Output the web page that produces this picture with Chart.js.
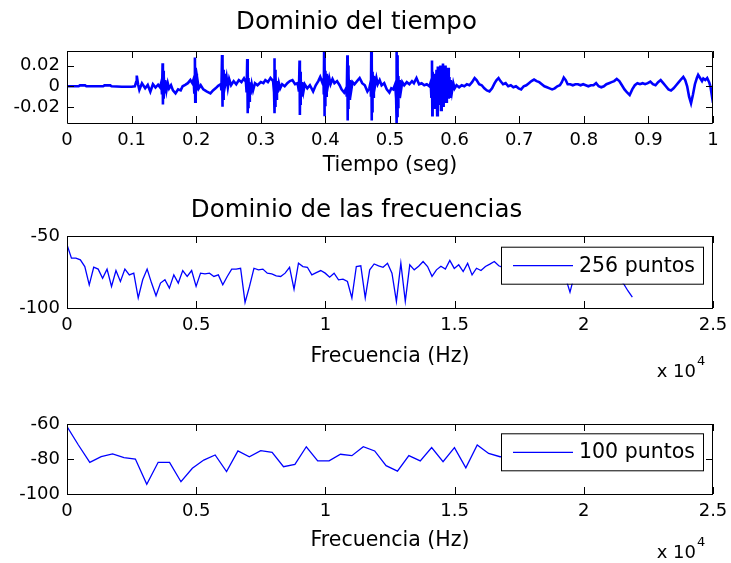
<!DOCTYPE html>
<html>
<head>
<meta charset="utf-8">
<script src="https://cdn.jsdelivr.net/npm/chart.js@4.4.1/dist/chart.umd.min.js"></script>
<style>
  body { margin: 0; background: #fff; }
  #lienzo { position: relative; width: 731px; height: 563px; overflow: hidden; }
  #lienzo canvas { position: absolute; left: 0; }
</style>
</head>
<body>
<div id="lienzo">
  <canvas id="graficoTiempo" width="731" height="185" style="top:0px"></canvas>
  <canvas id="grafico256" width="731" height="200" style="top:185px"></canvas>
  <canvas id="grafico100" width="731" height="178" style="top:385px"></canvas>
</div>
<script>
// --- datos ---

// señal en el dominio del tiempo: [tiempo (seg), amplitud]
const senal = [
  [0, 0], [0.018, 0], [0.02, 0.0009], [0.028, 0.0009], [0.03, 0], [0.056, 0], [0.058, 0.0009],
  [0.067, 0.0009], [0.069, 0], [0.085, -0.0005], [0.1, -0.0005], [0.105, 0],
  [0.107, 0.004], [0.108, 0.0103], [0.110, 0.002], [0.112, -0.0035], [0.116, 0.0029], [0.121, -0.0019],
  [0.125, 0.0013], [0.129, -0.0052], [0.133, 0.002], [0.137, -0.0012], [0.141, 0.0015], [0.144, -0.001], [0.146, 0.004],
  [0.147, -0.008], [0.148, 0.0222], [0.1485, -0.0175], [0.149, 0.015], [0.1495, -0.012], [0.150, 0.010],
  [0.151, -0.007], [0.152, 0.006], [0.154, -0.004], [0.156, 0.003], [0.158, -0.002], [0.161, 0.001],
  [0.164, -0.004], [0.168, -0.0068], [0.172, -0.003], [0.176, -0.004], [0.179, 0], [0.183, 0.0013],
  [0.187, 0.003], [0.191, 0.006], [0.194, 0.003], [0.196, 0.007],
  [0.197, -0.006], [0.198, 0.0277], [0.1985, -0.0149], [0.199, 0.018], [0.1995, -0.010], [0.2, 0.012],
  [0.201, -0.004], [0.202, 0.006], [0.204, -0.002], [0.207, 0.001], [0.211, -0.003], [0.216, -0.005],
  [0.222, -0.0068], [0.226, -0.004], [0.23, -0.002], [0.234, 0.0005], [0.238, 0.002],
  [0.239, -0.004], [0.240, 0.0302], [0.2405, -0.0197], [0.241, 0.022], [0.2415, -0.012], [0.242, 0.016],
  [0.243, -0.004], [0.244, 0.012], [0.245, 0.002], [0.247, 0.009], [0.249, -0.001], [0.251, 0.007],
  [0.254, 0.001], [0.258, 0.005], [0.262, 0.002], [0.266, 0.006], [0.27, 0.004], [0.274, 0.0077], [0.277, 0.004],
  [0.278, -0.006], [0.279, 0.0264], [0.2795, -0.0261], [0.280, 0.015], [0.2805, -0.020], [0.281, 0.008],
  [0.282, -0.014], [0.283, 0.004], [0.284, -0.008], [0.286, 0.002], [0.288, -0.004], [0.291, 0.003],
  [0.295, 0.001], [0.3, 0.004], [0.304, 0.003], [0.307, 0.006], [0.311, 0.004], [0.315, 0.008], [0.319, 0.005],
  [0.3205, -0.006], [0.321, 0.027], [0.3215, -0.0261], [0.322, 0.016], [0.3225, -0.020], [0.323, 0.010],
  [0.324, -0.012], [0.325, 0.005], [0.326, -0.006], [0.328, 0.003], [0.330, -0.002], [0.333, 0.002],
  [0.337, 0.000], [0.341, 0.003], [0.345, 0.005], [0.349, 0.006], [0.353, 0.002], [0.357, 0.003],
  [0.359, -0.005], [0.360, 0.025], [0.3605, -0.0277], [0.361, 0.014], [0.3615, -0.018], [0.362, 0.008],
  [0.363, -0.010], [0.364, 0.004], [0.366, -0.005], [0.368, 0.002], [0.372, -0.002], [0.376, 0.001],
  [0.381, -0.005], [0.385, 0.001], [0.389, 0.005], [0.392, 0.009], [0.395, 0.004], [0.397, 0.007],
  [0.3975, -0.008], [0.398, 0.036], [0.3985, -0.029], [0.399, 0.022], [0.3995, -0.018], [0.400, 0.015],
  [0.401, -0.009], [0.402, 0.012], [0.404, 0.001], [0.406, 0.008], [0.408, 0.002], [0.411, 0.007],
  [0.414, 0.003], [0.418, 0.005], [0.422, 0.001], [0.425, -0.003], [0.429, -0.006], [0.432, -0.002],
  [0.433, -0.010], [0.434, 0.030], [0.4345, -0.033], [0.435, 0.020], [0.4355, -0.022], [0.436, 0.012],
  [0.437, -0.012], [0.438, 0.006], [0.440, -0.004], [0.442, 0.004], [0.445, 0.002], [0.449, 0.005],
  [0.453, 0.008], [0.457, 0.003], [0.461, 0.001], [0.465, -0.005], [0.468, -0.002], [0.47, 0.004],
  [0.4705, -0.010], [0.471, 0.036], [0.4715, -0.033], [0.472, 0.022], [0.4725, -0.024], [0.473, 0.014],
  [0.474, -0.010], [0.475, 0.010], [0.477, 0.001], [0.479, 0.008], [0.481, 0.002], [0.484, 0.006],
  [0.487, 0.001], [0.491, 0.003], [0.495, -0.003], [0.499, -0.006], [0.502, -0.002], [0.505, -0.003], [0.508, 0.002],
  [0.5095, -0.012], [0.510, 0.036], [0.5105, -0.036], [0.511, 0.030], [0.5115, -0.030], [0.512, 0.018],
  [0.5125, -0.020], [0.513, 0.010], [0.514, -0.010], [0.515, 0.006], [0.517, -0.004], [0.519, 0.004],
  [0.522, 0.001], [0.526, 0.004], [0.530, 0.002], [0.534, 0.005], [0.537, 0.003], [0.541, 0.008],
  [0.545, 0.002], [0.549, 0.003], [0.553, 0.001], [0.557, 0.002], [0.561, 0.000],
  [0.563, 0.004], [0.564, -0.010], [0.565, 0.025], [0.5655, -0.028], [0.566, 0.014], [0.567, -0.012],
  [0.568, 0.012], [0.569, -0.022], [0.570, 0.008], [0.571, -0.006], [0.572, 0.016], [0.573, -0.028],
  [0.574, 0.019], [0.575, -0.018], [0.576, 0.010], [0.577, -0.010], [0.578, 0.020], [0.579, -0.023],
  [0.580, 0.014], [0.581, -0.012], [0.582, 0.022], [0.583, -0.020], [0.584, 0.015], [0.585, -0.008],
  [0.586, 0.020], [0.587, -0.015], [0.588, 0.012], [0.589, -0.006], [0.590, 0.018], [0.591, -0.012],
  [0.592, 0.009], [0.593, -0.010], [0.594, 0.006], [0.596, -0.005], [0.598, 0.003], [0.600, -0.002],
  [0.603, 0.001], [0.607, -0.001], [0.611, 0.001], [0.615, 0.000], [0.619, 0.002], [0.623, 0.001],
  [0.627, 0.004], [0.631, 0.008], [0.634, 0.006], [0.638, 0.002], [0.642, 0.001], [0.646, -0.002],
  [0.650, -0.004], [0.654, -0.005], [0.658, -0.002], [0.662, 0.003], [0.665, 0.006], [0.668, 0.008],
  [0.671, 0.005], [0.675, 0.002], [0.679, 0.003], [0.683, 0.000], [0.687, 0.001], [0.691, -0.001],
  [0.695, 0.000], [0.699, -0.002], [0.703, -0.003], [0.707, 0.000], [0.711, 0.001], [0.715, 0.003],
  [0.719, 0.005], [0.723, 0.0065], [0.727, 0.005], [0.731, 0.004], [0.735, 0.002], [0.739, 0.000],
  [0.743, -0.001], [0.747, -0.002], [0.751, -0.003], [0.755, -0.002], [0.759, 0.000], [0.763, 0.001],
  [0.766, 0.004], [0.769, 0.0085], [0.772, 0.006], [0.775, 0.002], [0.779, 0.002], [0.783, 0.001],
  [0.787, 0.002], [0.791, 0.002], [0.795, 0.001], [0.799, 0.002], [0.803, 0.001], [0.807, 0.000],
  [0.811, 0.001], [0.815, 0.001], [0.819, 0.003], [0.823, 0.000], [0.827, -0.001], [0.831, 0.000],
  [0.835, 0.002], [0.839, 0.003], [0.843, 0.004], [0.847, 0.005], [0.851, 0.007], [0.855, 0.005],
  [0.859, 0.001], [0.863, -0.003], [0.867, -0.006], [0.871, -0.0085], [0.875, -0.003], [0.879, 0.001],
  [0.883, 0.003], [0.887, 0.002], [0.891, 0.003], [0.895, 0.002], [0.899, 0.003], [0.903, 0.0045],
  [0.907, 0.002], [0.911, 0.001], [0.915, 0.004], [0.919, 0.006], [0.923, 0.003], [0.927, 0.000],
  [0.931, -0.003], [0.935, -0.004], [0.939, -0.002], [0.943, 0.001], [0.947, 0.004], [0.951, 0.007],
  [0.954, 0.009], [0.957, 0.006], [0.960, 0.000], [0.963, -0.010], [0.966, -0.0165], [0.969, -0.008],
  [0.972, 0.002], [0.975, 0.008], [0.977, 0.011], [0.980, 0.008], [0.983, 0.005], [0.985, 0.0075],
  [0.988, 0.006], [0.991, 0.008], [0.994, 0.004], [0.996, 0.000], [0.998, -0.008], [1.0, -0.016]
];

// espectro con 256 puntos (Hz, dB)
const frecuencias256 = [
  0, 172, 345, 517, 689, 861, 1034, 1206, 1378, 1550, 1723, 1895, 2067, 2240, 2412, 2584,
  2756, 2929, 3101, 3273, 3445, 3618, 3790, 3962, 4134, 4307, 4479, 4651, 4824, 4996, 5168, 5340,
  5513, 5685, 5857, 6029, 6202, 6374, 6546, 6718, 6891, 7063, 7235, 7408, 7580, 7752, 7924, 8097,
  8269, 8441, 8613, 8786, 8958, 9130, 9302, 9475, 9647, 9819, 9992, 10164, 10336, 10508, 10681, 10853,
  11025, 11197, 11370, 11542, 11714, 11887, 12059, 12231, 12403, 12576, 12748, 12920, 13092, 13265, 13437, 13609,
  13781, 13954, 14126, 14298, 14470, 14643, 14815, 14987, 15159, 15332, 15504, 15676, 15848, 16021, 16193, 16365,
  16537, 16710, 16882, 17054, 17227, 17399, 17571, 17743, 17916, 18088, 18260, 18432, 18605, 18777, 18949, 19121,
  19294, 19466, 19638, 19811, 19983, 20155, 20327, 20500, 20672, 20844, 21016, 21189, 21361, 21533, 21705, 21878
];
const db256 = [
  -56, -65.4, -65.4, -66.6, -71.2, -83.9, -71.7, -73, -79.3, -73,
  -85, -74, -81.6, -73, -77, -75.8, -93, -80.4, -73, -82.7,
  -91.5, -82.7, -80.4, -86.2, -77, -82.7, -74, -78.1, -74, -85,
  -75.8, -76.3, -75.8, -78.1, -77, -83.9, -78.1, -73, -73, -72.4,
  -96.1, -85, -72.4, -73.5, -73, -75.8, -76.3, -77.7, -78.1, -75.8,
  -71.7, -86.9, -68.9, -71.2, -71.7, -77, -75.4, -74, -75.8, -78.6,
  -75.8, -80.4, -80, -81.6, -93, -71.2, -70.7, -93, -73.5, -69.4,
  -70.7, -71.7, -68.9, -75.8, -95.4,
  -68.9, -95.4, -70, -73.5, -71, -67.7, -71.2, -78, -73.5, -71,
  -73, -67, -72.5, -70, -74.7, -69, -77, -72.4, -74, -71.2, -69.5, -67.7, -70.7,
  -72, -74, -71, -73, -76, -72, -74, -77, -73, -75,
  -78, -76, -79, -80, -79, -89, -77, -75, -77, -74,
  -76, -78, -77, -79, -80, -79, -81, -83, -88, -92.5
];

// espectro con 100 puntos (Hz, dB)
const frecuencias100 = [
  0, 441, 882, 1323, 1764, 2205, 2646, 3087, 3528, 3969, 4410, 4851, 5292, 5733, 6174, 6615, 7056,
  7497, 7938, 8379, 8820, 9261, 9702, 10143, 10584, 11025, 11466, 11907, 12348, 12789, 13230, 13671,
  14112, 14553, 14994, 15435, 15876, 16317, 16758, 17199, 17640, 18081, 18522, 18963, 19404, 19845,
  20286, 20727, 21168, 21609
];
const db100 = [
  -61.5, -72, -81.9, -78.7, -77.1, -79.2, -80, -94.5, -81.9, -81.9,
  -93, -85.3, -80.6, -77.7, -87.2, -75.4, -78.7, -75.2, -76.2, -84.4,
  -83.1, -73, -81.1, -81.1, -77.3, -78.1, -73, -75.4, -83.8, -86.9,
  -78.1, -81.1, -73.5, -81.5, -73.5, -85, -72, -76.8, -78.7, -78.5,
  -80, -77, -79, -81, -78, -80, -82, -79, -81, -84
];

// marcas de los ejes
const ticksTiempo = [0, 0.1, 0.2, 0.3, 0.4, 0.5, 0.6, 0.7, 0.8, 0.9, 1];
const etiquetasTiempo = ['0', '0.1', '0.2', '0.3', '0.4', '0.5', '0.6', '0.7', '0.8', '0.9', '1'];
const ticksAmplitud = [-0.02, 0, 0.02];
const etiquetasAmplitud = ['-0.02', '0', '0.02'];
const ticksFrecuencia = [0, 5000, 10000, 15000, 20000, 25000];
const etiquetasFrecuencia = ['0', '0.5', '1', '1.5', '2', '2.5'];
const ticksDb256 = [-100, -50];
const etiquetasDb256 = ['-100', '-50'];
const ticksDb100 = [-100, -80, -60];
const etiquetasDb100 = ['-100', '-80', '-60'];

// --- estilo tipo matlab ---

Chart.defaults.font.family = 'DejaVu Sans';
Chart.defaults.color = '#000';

const FUENTE = 'DejaVu Sans';

// caja completa con marcas hacia dentro, leyenda con borde y factor "x 10^4"
const marcoMatlab = {
  id: 'marcoMatlab',
  afterDatasetsDraw(chart, args, opts) {
    const { ctx, chartArea: a, scales } = chart;
    ctx.save();

    if (opts.leyenda) {
      const ds = chart.data.datasets[0];
      const w = 202, h = 37;
      const bx = a.right - 10 - w, by = a.top + opts.leyendaTop;
      ctx.fillStyle = '#fff';
      ctx.fillRect(bx, by, w, h);
      ctx.strokeStyle = '#000';
      ctx.lineWidth = 1;
      ctx.strokeRect(bx + 0.5, by + 0.5, w, h);
      ctx.strokeStyle = ds.borderColor;
      ctx.lineWidth = ds.borderWidth;
      ctx.beginPath();
      ctx.moveTo(bx + 12, by + h / 2 + 0.5);
      ctx.lineTo(bx + 72, by + h / 2 + 0.5);
      ctx.stroke();
      ctx.fillStyle = '#000';
      ctx.font = '20.5px ' + FUENTE;
      ctx.textBaseline = 'middle';
      ctx.textAlign = 'left';
      ctx.fillText(ds.label, bx + 78, by + h / 2 + 1);
    }

    ctx.strokeStyle = '#000';
    ctx.lineWidth = 1;
    ctx.beginPath();
    ctx.rect(Math.round(a.left) + 0.5, Math.round(a.top) + 0.5,
      Math.round(a.right - a.left) - 1, Math.round(a.bottom - a.top));
    const largo = 7;
    scales.x.ticks.forEach(t => {
      const px = Math.round(scales.x.getPixelForValue(t.value)) + 0.5;
      ctx.moveTo(px, a.bottom); ctx.lineTo(px, a.bottom - largo);
      ctx.moveTo(px, a.top); ctx.lineTo(px, a.top + largo);
    });
    scales.y.ticks.forEach(t => {
      const py = Math.round(scales.y.getPixelForValue(t.value)) + 0.5;
      ctx.moveTo(a.left, py); ctx.lineTo(a.left + largo, py);
      ctx.moveTo(a.right, py); ctx.lineTo(a.right - largo, py);
    });
    ctx.stroke();

    if (opts.exponente) {
      ctx.fillStyle = '#000';
      ctx.textBaseline = 'middle';
      ctx.font = '18px ' + FUENTE;
      ctx.textAlign = 'right';
      ctx.fillText('x 10', a.right - 17, a.bottom + opts.exponente);
      ctx.font = '13px ' + FUENTE;
      ctx.textAlign = 'left';
      ctx.fillText('4', a.right - 16, a.bottom + opts.exponente - 10);
    }
    ctx.restore();
  }
};

function ejeX(valores, etiquetas, min, max, alto, titulo, padTitulo) {
  return {
    type: 'linear', min: min, max: max,
    grid: { display: false, drawTicks: false },
    border: { display: false },
    afterBuildTicks: s => { s.ticks = valores.map(v => ({ value: v })); },
    afterFit: s => { s.height = alto; s.paddingLeft = 0; s.paddingRight = 0; },
    ticks: { autoSkip: false, maxRotation: 0, padding: 7, font: { size: 18 },
      callback: (v, i) => etiquetas[i] },
    title: { display: true, text: titulo, font: { size: 20.5 }, padding: { top: 0, bottom: padTitulo } }
  };
}

function ejeY(valores, etiquetas, min, max) {
  return {
    type: 'linear', min: min, max: max,
    grid: { display: false, drawTicks: false },
    border: { display: false },
    afterBuildTicks: s => { s.ticks = valores.map(v => ({ value: v })); },
    afterFit: s => { s.width = 67; s.paddingTop = 0; s.paddingBottom = 0; },
    ticks: { padding: 7, font: { size: 18 }, callback: (v, i) => etiquetas[i] }
  };
}

function serie(label, xs, ys, ancho) {
  return {
    label: label,
    data: xs.map((x, i) => ({ x: x, y: ys[i] })),
    borderColor: '#0000ff',
    borderWidth: ancho,
    pointRadius: 0,
    tension: 0
  };
}

// dominio del tiempo
new Chart(document.getElementById('graficoTiempo'), {
  type: 'line',
  data: { datasets: [serie('señal', senal.map(p => p[0]), senal.map(p => p[1]), 2.6)] },
  options: {
    responsive: false,
    animation: false,
    layout: { padding: { left: 0, right: 18, top: 0, bottom: 0 } },
    plugins: {
      legend: { display: false },
      tooltip: { enabled: false },
      title: { display: true, text: 'Dominio del tiempo', font: { size: 24.5, weight: 'normal' },
        padding: { top: 8.3, bottom: 13.3 } },
      marcoMatlab: {}
    },
    scales: {
      x: ejeX(ticksTiempo, etiquetasTiempo, 0, 1, 62, 'Tiempo (seg)', 7),
      y: ejeY(ticksAmplitud, etiquetasAmplitud, -0.0355, 0.0341)
    }
  },
  plugins: [marcoMatlab]
});

// espectro 256 puntos
new Chart(document.getElementById('grafico256'), {
  type: 'line',
  data: { datasets: [serie('256 puntos', frecuencias256, db256, 1.3)] },
  options: {
    responsive: false,
    animation: false,
    layout: { padding: { left: 0, right: 18, top: 0, bottom: 0 } },
    plugins: {
      legend: { display: false },
      tooltip: { enabled: false },
      title: { display: true, text: 'Dominio de las frecuencias', font: { size: 24.5, weight: 'normal' },
        padding: { top: 11.3, bottom: 10.3 } },
      marcoMatlab: { leyenda: true, leyendaTop: 10.7, exponente: 64 }
    },
    scales: {
      x: ejeX(ticksFrecuencia, etiquetasFrecuencia, 0, 25000, 77, 'Frecuencia (Hz)', 16),
      y: ejeY(ticksDb256, etiquetasDb256, -100, -50)
    }
  },
  plugins: [marcoMatlab]
});

// espectro 100 puntos
new Chart(document.getElementById('grafico100'), {
  type: 'line',
  data: { datasets: [serie('100 puntos', frecuencias100, db100, 1.3)] },
  options: {
    responsive: false,
    animation: false,
    layout: { padding: { left: 0, right: 18, top: 39, bottom: 0 } },
    plugins: {
      legend: { display: false },
      tooltip: { enabled: false },
      marcoMatlab: { leyenda: true, leyendaTop: 9.3, exponente: 59 }
    },
    scales: {
      x: ejeX(ticksFrecuencia, etiquetasFrecuencia, 0, 25000, 69, 'Frecuencia (Hz)', 10.2),
      y: ejeY(ticksDb100, etiquetasDb100, -100, -60)
    }
  },
  plugins: [marcoMatlab]
});
</script>
</body>
</html>
